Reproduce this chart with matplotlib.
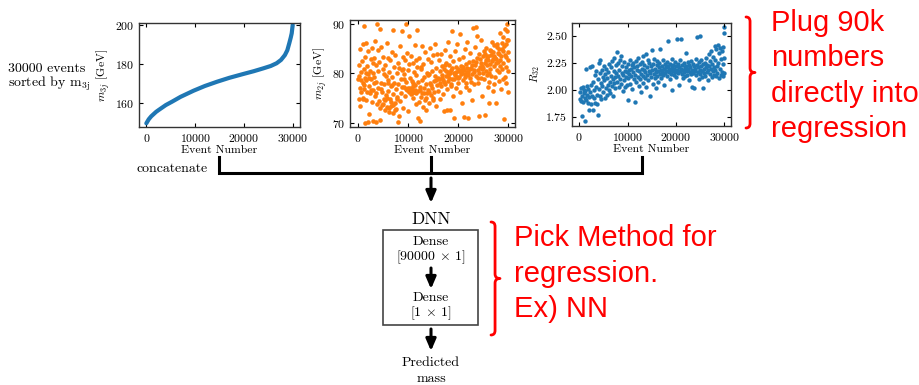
import matplotlib
matplotlib.use("Agg")
import numpy as np
from matplotlib import pyplot as plt
from matplotlib.path import Path
from matplotlib.patches import PathPatch, Rectangle

plt.rcParams['font.family'] = ['cmr10', 'DejaVu Serif']
plt.rcParams['mathtext.fontset'] = 'cm'
plt.rcParams['axes.formatter.use_mathtext'] = True

blue = "#1f77b4"
orange = "#ff7f0e"
red = "#ff0000"

# sorted m3j values (x in thousands of events)
m3j_x = [0, 0.5, 1, 2, 2.5, 4, 5.25, 7, 9.7, 12, 14.5, 17, 19.9, 22, 24, 25.5,
         26.7, 27.6, 28.4, 28.9, 29.3, 29.6, 29.8, 30.0]
m3j_y = [149.4, 151.5, 153.0, 155.3, 156.2, 158.8, 160.5, 163.0, 166.2, 168.6,
         170.8, 172.8, 174.8, 176.2, 177.7, 178.9, 180.3, 182.0, 184.5, 187.0,
         190.6, 193.5, 195.7, 200.0]

# m2j scatter (x in thousands of events)
m2j_pts = [
    (0.1, 78.9), (0.2, 74.8), (0.3, 79.5), (0.4, 77.0), (0.5, 73.3), (0.5, 85.0), (0.6, 80.2), (0.7, 76.3),
    (0.8, 82.5), (0.9, 78.1), (1.0, 86.0), (1.0, 75.0), (1.1, 80.9), (1.2, 77.6), (1.2, 89.6), (1.3, 79.0),
    (1.4, 83.4), (1.5, 86.2), (1.5, 74.6), (1.6, 78.6), (1.7, 81.5), (1.8, 76.1), (1.9, 79.8), (1.9, 70.1),
    (1.3, 70.0),
    (2.0, 84.6), (2.1, 71.8), (2.2, 77.5), (2.3, 80.4), (2.4, 75.9), (2.5, 82.8), (2.6, 78.8), (2.7, 74.1),
    (2.8, 85.2), (2.9, 80.0), (3.0, 76.7), (3.0, 70.4), (3.1, 79.3), (3.2, 83.0), (3.3, 75.3), (3.4, 86.6),
    (3.5, 78.2), (3.5, 70.2), (3.6, 81.6), (3.7, 73.8), (3.8, 90.0), (3.9, 77.1), (3.9, 84.7),
    (4.0, 80.5), (4.1, 74.3), (4.2, 82.2), (4.3, 72.9), (4.4, 89.0), (4.4, 70.6), (4.5, 78.0), (4.6, 85.4),
    (4.7, 76.2), (4.8, 73.6), (4.9, 80.9), (5.0, 83.3), (5.1, 74.8), (5.2, 77.9), (5.3, 72.5), (5.4, 81.7),
    (5.5, 75.6), (5.6, 79.4), (5.7, 86.2), (5.8, 73.2), (5.9, 78.6), (5.9, 83.1),
    (6.0, 76.5), (6.1, 72.2), (6.2, 80.3), (6.3, 74.7), (6.4, 82.6), (6.5, 77.4), (6.6, 73.4), (6.7, 79.2),
    (6.8, 84.3), (6.9, 75.8), (7.0, 88.8), (7.0, 72.0), (7.1, 78.1), (7.2, 81.2), (7.3, 74.0), (7.4, 83.8),
    (7.5, 76.9), (7.6, 72.8), (7.7, 80.0), (7.8, 75.1), (7.9, 82.1), (7.9, 70.1),
    (8.0, 77.8), (8.1, 71.4), (8.2, 81.0), (8.3, 74.4), (8.4, 85.6), (8.5, 78.9), (8.6, 76.0), (8.7, 88.6),
    (8.8, 80.7), (8.9, 73.0), (9.0, 83.4), (9.1, 77.2), (9.2, 79.9), (9.3, 75.4), (9.4, 82.7), (9.5, 90.0),
    (9.6, 78.3), (9.7, 76.6), (9.8, 84.1), (9.9, 80.6), (9.9, 72.3),
    (10.0, 77.0), (10.1, 81.8), (10.2, 87.5), (10.3, 76.4), (10.4, 79.1), (10.5, 83.6), (10.6, 75.7),
    (10.7, 78.5), (10.8, 76.8), (10.9, 82.0), (11.0, 74.9), (11.1, 80.2), (11.2, 76.3), (11.3, 85.8),
    (11.4, 77.6), (11.5, 79.6), (11.6, 73.7), (11.7, 81.3), (11.8, 88.8), (11.9, 76.5), (11.9, 71.0),
    (12.0, 78.2), (12.1, 74.2), (12.2, 83.1), (12.3, 70.3), (12.4, 77.3), (12.5, 80.8), (12.6, 75.2),
    (12.7, 85.6), (12.8, 78.7), (12.9, 73.1), (13.0, 81.9), (13.1, 76.0), (13.2, 79.3), (13.3, 74.6),
    (13.4, 84.4), (13.5, 77.8), (13.6, 72.6), (13.7, 80.1), (13.8, 75.9), (13.9, 82.9),
    (14.0, 76.7), (14.1, 79.8), (14.2, 73.9), (14.3, 85.1), (14.4, 78.0), (14.5, 75.5), (14.6, 82.3),
    (14.7, 77.1), (14.8, 80.4), (14.9, 74.5), (15.0, 83.7), (15.1, 78.4), (15.2, 76.2), (15.3, 85.9),
    (15.4, 79.5), (15.5, 73.4), (15.6, 81.1), (15.7, 77.7), (15.8, 84.0), (15.9, 79.0),
    (16.0, 76.4), (16.1, 82.6), (16.2, 78.8), (16.3, 74.7), (16.4, 80.5), (16.5, 83.9), (16.6, 77.5),
    (16.7, 79.7), (16.8, 81.4), (16.9, 75.8), (17.0, 78.6), (17.1, 72.4), (17.2, 80.9), (17.3, 84.8),
    (17.4, 77.9), (17.5, 79.4), (17.6, 82.0), (17.7, 76.9), (17.8, 72.6), (17.9, 80.3), (17.9, 86.4),
    (18.0, 78.4), (18.1, 81.7), (18.2, 79.1), (18.3, 72.5), (18.4, 83.5), (18.5, 77.4), (18.6, 80.6),
    (18.7, 88.6), (18.8, 78.9), (18.9, 82.4), (19.0, 75.3), (19.1, 80.1), (19.2, 71.0), (19.3, 79.6),
    (19.4, 84.6), (19.5, 77.0), (19.6, 81.2), (19.7, 79.3), (19.8, 85.9), (19.9, 80.8),
    (20.0, 78.1), (20.1, 82.8), (20.2, 80.4), (20.3, 76.3), (20.4, 87.9), (20.5, 79.9), (20.6, 81.5),
    (20.7, 74.0), (20.8, 80.0), (20.9, 83.2), (21.0, 78.7), (21.1, 71.1), (21.2, 80.7), (21.3, 84.9),
    (21.4, 79.2), (21.5, 81.9), (21.6, 77.2), (21.7, 80.3), (21.8, 86.3), (21.9, 71.0),
    (22.0, 79.6), (22.1, 82.2), (22.2, 76.6), (22.3, 80.9), (22.4, 84.2), (22.5, 78.3), (22.6, 81.1),
    (22.7, 74.6), (22.8, 79.8), (22.9, 89.2), (23.0, 82.5), (23.1, 80.2), (23.2, 77.8), (23.3, 85.3),
    (23.4, 81.6), (23.5, 89.3), (23.6, 79.4), (23.7, 83.0), (23.8, 87.6), (23.9, 80.6),
    (24.0, 78.0), (24.1, 84.0), (24.2, 71.3), (24.3, 81.3), (24.4, 82.9), (24.5, 79.0), (24.6, 86.8),
    (24.7, 80.8), (24.8, 75.4), (24.9, 83.6), (25.0, 81.0), (25.1, 78.8), (25.2, 84.5), (25.3, 82.1),
    (25.4, 71.5), (25.5, 80.5), (25.6, 85.2), (25.7, 79.7), (25.8, 83.3), (25.9, 77.3),
    (26.0, 82.7), (26.1, 80.1), (26.2, 74.0), (26.3, 84.7), (26.4, 81.8), (26.5, 83.8), (26.6, 79.5),
    (26.7, 86.4), (26.8, 82.4), (26.9, 76.5), (27.0, 84.3), (27.1, 81.4), (27.2, 85.7), (27.3, 79.3),
    (27.4, 83.0), (27.5, 73.9), (27.6, 82.8), (27.7, 86.0), (27.8, 80.7), (27.9, 84.1),
    (28.0, 82.3), (28.1, 78.5), (28.2, 85.0), (28.3, 81.5), (28.4, 88.2), (28.5, 83.5), (28.6, 76.9),
    (28.7, 84.9), (28.8, 80.9), (28.9, 87.3), (29.0, 82.0), (29.1, 70.8), (29.2, 85.5), (29.3, 79.2),
    (29.4, 88.9), (29.5, 83.2), (29.6, 81.3), (29.7, 90.0), (29.8, 86.7), (29.9, 80.4), (30.0, 84.4),
    (30.0, 76.2),
    # denser core of the cloud
    (5.0, 73.8), (5.4, 74.5), (5.8, 75.0), (6.2, 73.0), (6.6, 74.2), (7.0, 73.5), (7.4, 72.6), (7.7, 74.8),
    (6.0, 78.0), (6.8, 77.6), (5.2, 79.9), (4.6, 76.8),
    (9.6, 76.9), (10.1, 76.2), (10.4, 77.1), (10.7, 76.0), (11.0, 77.4), (11.3, 76.7), (11.6, 75.9),
    (10.9, 78.0), (9.2, 78.8), (8.7, 77.2), (9.0, 80.8), (11.5, 82.6),
    (12.3, 76.6), (12.8, 75.9), (13.2, 77.0), (13.6, 74.9), (14.1, 76.1), (14.6, 77.6), (15.0, 75.0),
    (15.5, 78.6), (13.9, 79.6), (12.6, 81.3),
    (0.3, 81.7), (0.7, 78.6), (1.1, 76.8), (1.6, 80.0), (2.2, 79.0), (2.6, 76.6), (3.1, 78.0), (3.6, 76.0),
    (0.9, 74.7), (2.9, 82.1),
    (16.4, 78.0), (16.8, 79.0), (17.2, 78.2), (17.6, 80.4), (18.0, 79.6), (18.4, 80.0), (18.8, 81.0),
    (19.2, 78.8), (19.6, 80.2), (19.9, 79.1), (17.4, 81.6), (18.6, 77.9),
    (20.2, 79.3), (20.6, 80.6), (21.0, 81.2), (21.3, 79.8), (21.7, 81.0), (22.0, 80.3), (22.4, 79.1),
    (22.8, 81.7), (23.2, 80.7), (23.6, 82.3), (23.9, 79.0), (21.5, 78.1),
    (24.2, 80.0), (24.6, 82.0), (25.0, 80.1), (25.3, 83.9), (25.7, 81.7), (26.0, 83.5), (26.3, 80.9),
    (26.6, 84.6), (26.9, 82.9), (24.8, 81.4), (25.5, 82.7), (26.2, 78.2),
    (27.2, 83.6), (27.5, 82.1), (27.8, 85.3), (28.1, 83.9), (28.4, 82.6), (28.7, 86.2), (29.0, 84.6),
    (29.3, 83.8), (29.6, 86.0), (29.9, 82.7), (28.2, 80.2), (29.5, 78.1), (30.0, 86.7), (29.8, 88.6),
    (28.9, 78.8), (27.1, 77.8),
]

# R32 scatter (x in thousands of events)
r32_pts = [
    (0.1, 1.92), (0.2, 1.98), (0.3, 1.90), (0.4, 2.02), (0.5, 1.76), (0.6, 1.95), (0.7, 2.03), (0.8, 1.89),
    (0.9, 1.97), (1.0, 2.00), (1.1, 1.93), (1.2, 1.72), (1.3, 1.99), (1.4, 2.20), (1.5, 1.91), (1.6, 2.04),
    (1.7, 1.96), (1.8, 1.88), (1.9, 2.01),
    (2.0, 1.94), (2.1, 1.82), (2.2, 2.21), (2.3, 1.98), (2.4, 2.05), (2.5, 1.87), (2.6, 2.22), (2.7, 1.95),
    (2.8, 1.82), (2.9, 2.08), (3.0, 2.00), (3.1, 1.93), (3.2, 2.14), (3.3, 1.88), (3.4, 2.03), (3.5, 2.18),
    (3.6, 1.96), (3.7, 1.87), (3.8, 2.10), (3.9, 1.77),
    (4.0, 2.25), (4.1, 2.01), (4.2, 2.16), (4.3, 1.95), (4.4, 2.28), (4.5, 2.07), (4.6, 1.92), (4.7, 2.19),
    (4.8, 2.04), (4.9, 2.12), (5.0, 1.98), (5.1, 2.22), (5.2, 2.09), (5.3, 1.93), (5.4, 2.15), (5.5, 2.02),
    (5.6, 2.20), (5.7, 1.96), (5.8, 2.11), (5.9, 2.05),
    (6.0, 2.17), (6.1, 2.00), (6.2, 2.24), (6.3, 2.08), (6.4, 1.97), (6.5, 2.13), (6.6, 2.21), (6.7, 2.04),
    (6.8, 2.27), (6.9, 2.10), (7.0, 1.95), (7.1, 2.18), (7.2, 2.07), (7.3, 2.30), (7.4, 2.12), (7.5, 2.02),
    (7.6, 2.23), (7.7, 2.16), (7.8, 2.35), (7.9, 2.08),
    (8.0, 2.25), (8.1, 2.13), (8.2, 2.03), (8.3, 2.19), (8.4, 2.28), (8.5, 2.10), (8.6, 2.32), (8.7, 2.06),
    (8.8, 2.16), (8.9, 2.22), (9.0, 1.99), (9.1, 2.14), (9.2, 2.26), (9.3, 2.09), (9.4, 2.18), (9.5, 2.03),
    (9.6, 2.21), (9.7, 2.12), (9.8, 2.17), (9.9, 2.05),
    (10.0, 2.24), (10.1, 2.11), (10.2, 1.91), (10.3, 2.19), (10.4, 2.15), (10.5, 2.28), (10.6, 2.06),
    (10.7, 2.20), (10.8, 2.13), (10.9, 2.23), (11.0, 2.01), (11.1, 2.17), (11.2, 2.25), (11.3, 2.10),
    (11.4, 2.21), (11.5, 1.89), (11.6, 2.14), (11.7, 2.27), (11.8, 2.08), (11.9, 2.19),
    (12.0, 2.22), (12.1, 2.12), (12.2, 2.30), (12.3, 2.04), (12.4, 2.18), (12.5, 2.24), (12.6, 2.10),
    (12.7, 2.15), (12.8, 1.98), (12.9, 2.20), (13.0, 2.26), (13.1, 2.13), (13.2, 2.32), (13.3, 2.07),
    (13.4, 2.19), (13.5, 2.23), (13.6, 2.11), (13.7, 2.17), (13.8, 2.03), (13.9, 2.33),
    (14.0, 2.21), (14.1, 2.14), (14.2, 2.28), (14.3, 2.09), (14.4, 2.18), (14.5, 2.25), (14.6, 1.95),
    (14.7, 2.16), (14.8, 2.22), (14.9, 2.12), (15.0, 2.37), (15.1, 2.19), (15.2, 2.06), (15.3, 2.24),
    (15.4, 2.15), (15.5, 2.29), (15.6, 2.11), (15.7, 2.20), (15.8, 2.02), (15.9, 2.17),
    (16.0, 2.23), (16.1, 2.13), (16.2, 2.27), (16.3, 2.18), (16.4, 2.08), (16.5, 2.21), (16.6, 2.25),
    (16.7, 2.15), (16.8, 2.38), (16.9, 2.19), (17.0, 2.11), (17.1, 2.22), (17.2, 2.17), (17.3, 2.28),
    (17.4, 2.14), (17.5, 2.20), (17.6, 2.05), (17.7, 2.24), (17.8, 2.16), (17.9, 2.21),
    (18.0, 2.18), (18.1, 2.26), (18.2, 2.13), (18.3, 2.22), (18.4, 2.45), (18.5, 2.17), (18.6, 2.20),
    (18.7, 2.10), (18.8, 2.24), (18.9, 2.19), (19.0, 2.15), (19.1, 2.29), (19.2, 2.21), (19.3, 2.00),
    (19.4, 2.18), (19.5, 2.23), (19.6, 2.14), (19.7, 2.20), (19.8, 2.26), (19.9, 2.17),
    (20.0, 2.22), (20.1, 2.12), (20.2, 2.19), (20.3, 2.47), (20.4, 2.24), (20.5, 2.16), (20.6, 2.21),
    (20.7, 2.05), (20.8, 2.18), (20.9, 2.28), (21.0, 2.20), (21.1, 2.47), (21.2, 2.15), (21.3, 2.23),
    (21.4, 2.19), (21.5, 2.11), (21.6, 2.25), (21.7, 2.17), (21.8, 2.21), (21.9, 2.13),
    (22.0, 2.34), (22.1, 2.19), (22.2, 2.22), (22.3, 2.14), (22.4, 2.18), (22.5, 2.26), (22.6, 2.20),
    (22.7, 2.09), (22.8, 2.23), (22.9, 2.17), (23.0, 2.21), (23.1, 2.15), (23.2, 2.27), (23.3, 2.03),
    (23.4, 2.19), (23.5, 2.24), (23.6, 2.16), (23.7, 2.02), (23.8, 2.22), (23.9, 2.18),
    (24.0, 2.20), (24.1, 2.29), (24.2, 2.14), (24.3, 2.49), (24.4, 2.23), (24.5, 2.17), (24.6, 2.21),
    (24.7, 2.10), (24.8, 2.26), (24.9, 2.19), (25.0, 2.50), (25.1, 2.15), (25.2, 2.22), (25.3, 2.28),
    (25.4, 2.18), (25.5, 2.12), (25.6, 2.24), (25.7, 2.02), (25.8, 2.20), (25.9, 2.16),
    (26.0, 2.25), (26.1, 2.13), (26.2, 2.21), (26.3, 2.30), (26.4, 2.17), (26.5, 2.23), (26.6, 2.09),
    (26.7, 2.19), (26.8, 2.33), (26.9, 2.22), (27.0, 2.15), (27.1, 2.27), (27.2, 2.20), (27.3, 2.36),
    (27.4, 2.12), (27.5, 2.24), (27.6, 2.18), (27.7, 2.31), (27.8, 2.14), (27.9, 2.21),
    (28.0, 2.41), (28.1, 2.19), (28.2, 2.28), (28.3, 2.13), (28.4, 2.38), (28.5, 2.22), (28.6, 2.16),
    (28.7, 2.42), (28.8, 2.25), (28.9, 2.11), (29.0, 2.34), (29.1, 2.20), (29.2, 2.39), (29.3, 2.14),
    (29.4, 2.29), (29.5, 2.17), (29.6, 2.36), (29.7, 2.24), (29.8, 2.13), (29.9, 2.58), (30.0, 2.53),
    (30.0, 2.30), (29.8, 2.40), (29.9, 2.16),
]

xticks = [0, 10000, 20000, 30000]

fig = plt.figure(figsize=(9.2, 3.85), dpi=100)


def style(ax):
    ax.tick_params(direction='in', top=True, right=True, labelsize=8.5, length=3, width=0.8)
    for s in ax.spines.values():
        s.set_linewidth(1.0)
        s.set_color('#333333')
    ax.set_xticks(xticks)
    ax.set_xlabel("Event Number", fontsize=8.5, labelpad=1)


ax1 = fig.add_axes([0.1511, 0.6701, 0.175, 0.2701])
ax1.plot(np.array(m3j_x) * 1000, m3j_y, color=blue, lw=3.0, solid_capstyle='round')
ax1.set_xlim(-1500, 31500)
ax1.set_ylim(147.5, 201)
ax1.set_yticks([160, 180, 200])
ax1.set_ylabel(r"$m_{3j}$ [GeV]", fontsize=8.5, labelpad=2)
style(ax1)

mx = np.array([p[0] for p in m2j_pts]) * 1000
my = np.array([p[1] for p in m2j_pts])
ax2 = fig.add_axes([0.3804, 0.6701, 0.1793, 0.2779])
ax2.scatter(mx, my, s=11, color=orange, linewidths=0)
ax2.set_xlim(-1600, 31300)
ax2.set_ylim(69.1, 90.8)
ax2.set_yticks([70, 80, 90])
ax2.set_ylabel(r"$m_{2j}$ [GeV]", fontsize=8.5, labelpad=2)
style(ax2)

rx = np.array([p[0] for p in r32_pts]) * 1000
ry = np.array([p[1] for p in r32_pts])
ax3 = fig.add_axes([0.6217, 0.6727, 0.1728, 0.2675])
ax3.scatter(rx, ry, s=10, color=blue, linewidths=0)
ax3.set_xlim(-1500, 31400)
ax3.set_ylim(1.67, 2.62)
ax3.set_yticks([1.75, 2.00, 2.25, 2.50])
ax3.set_yticklabels(["1.75", "2.00", "2.25", "2.50"])
ax3.set_ylabel(r"$R_{32}$", fontsize=8, labelpad=3)
style(ax3)

# diagram layer in pixel coordinates
d = fig.add_axes([0, 0, 1, 1], zorder=-1)
d.set_xlim(0, 920)
d.set_ylim(385, 0)
d.axis('off')

d.text(8, 68.5, "30000 events", fontsize=10, va='center', ha='left')
d.text(8, 84, r"sorted by m$_{3\mathrm{j}}$", fontsize=10, va='center', ha='left')

d.plot([219, 219, 642, 642], [157, 173, 173, 157], color='black', lw=2.2, solid_joinstyle='miter')
d.plot([431, 431], [157, 173], color='black', lw=2.2)
d.text(208, 169, "concatenate", fontsize=10, ha='right', va='center')


def arrow(y0, y1):
    d.annotate('', xy=(431, y1), xytext=(431, y0),
               arrowprops=dict(arrowstyle='-|>,head_width=0.3,head_length=0.7', lw=2.2,
                               color='black', shrinkA=0, shrinkB=0))


arrow(178, 203)
d.text(431, 219, "DNN", fontsize=12.5, ha='center', va='center')
d.add_patch(Rectangle((383, 230), 95, 95, fill=False, ec='#444444', lw=1.2))
d.text(431, 242, "Dense", fontsize=10, ha='center', va='center')
d.text(431, 257, r"$[\mathsf{90000}\,\times\,\mathsf{1}]$", fontsize=10, ha='center', va='center')
arrow(268, 289)
d.text(431, 298, "Dense", fontsize=10, ha='center', va='center')
d.text(431, 313, r"$[\mathsf{1}\,\times\,\mathsf{1}]$", fontsize=10, ha='center', va='center')
arrow(329, 351)
d.text(431, 363, "Predicted", fontsize=10, ha='center', va='center')
d.text(431, 379, "mass", fontsize=10, ha='center', va='center')


def brace(x0, y0, y1, w):
    ym = (y0 + y1) / 2
    xs = x0 + w * 0.45
    r = w * 0.5
    verts = [(x0, y0), (xs, y0), (xs, y0 + r), (xs, y0 + r),
             (xs, ym - r), (xs, ym), (x0 + w, ym),
             (xs, ym), (xs, ym + r),
             (xs, y1 - r), (xs, y1), (x0, y1)]
    codes = [Path.MOVETO, Path.CURVE3, Path.CURVE3, Path.LINETO,
             Path.LINETO, Path.CURVE3, Path.CURVE3,
             Path.CURVE3, Path.CURVE3,
             Path.LINETO, Path.CURVE3, Path.CURVE3]
    d.add_patch(PathPatch(Path(verts, codes), fill=False, ec=red, lw=2.0,
                          capstyle='round', joinstyle='round'))


brace(746, 17, 128, 9)
brace(491, 222, 335, 9)

red_font = ['Liberation Sans', 'DejaVu Sans']
for txt, yb in zip(["Plug 90k", "numbers", "directly into", "regression"], [31, 66.5, 102, 137]):
    d.text(771, yb, txt, fontsize=21, color=red, family=red_font, va='baseline', ha='left')
for txt, yb in zip(["Pick Method for", "regression.", "Ex) NN"], [246, 281.5, 317]):
    d.text(514, yb, txt, fontsize=21, color=red, family=red_font, va='baseline', ha='left')

fig.savefig("out.png", dpi=100)
